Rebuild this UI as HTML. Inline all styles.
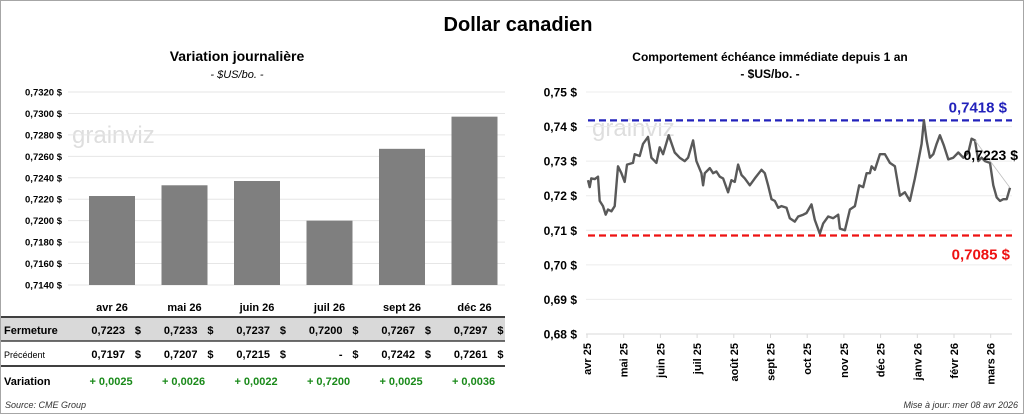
<!DOCTYPE html>
<html><head><meta charset="utf-8">
<style>
body{margin:0;background:#fff;font-family:"Liberation Sans",sans-serif;}
#wrap{position:relative;width:1024px;height:414px;overflow:hidden;}
svg text{font-family:"Liberation Sans",sans-serif;}
</style></head>
<body>
<div id="wrap">
<svg id="svg" width="1024" height="414" xmlns="http://www.w3.org/2000/svg">
<rect x="0.5" y="0.5" width="1023" height="413" fill="#fff" stroke="#a6a6a6"/>
<text x="518" y="31" font-size="20" font-weight="bold" text-anchor="middle">Dollar canadien</text>
<text x="237" y="61" font-size="14" font-weight="bold" text-anchor="middle">Variation  journalière</text>
<text x="237" y="78" font-size="11" font-style="italic" text-anchor="middle">- $US/bo. -</text>
<text x="770" y="61" font-size="12" font-weight="bold" text-anchor="middle">Comportement échéance immédiate depuis 1 an</text>
<text x="770" y="78" font-size="12" font-weight="bold" text-anchor="middle">- $US/bo. -</text>
<text x="72" y="143" font-size="24" fill="#dedede">grainviz</text>
<text x="592" y="136" font-size="24" fill="#dedede">grainviz</text>
<g id="left"></g><g id="right"></g><g id="table"></g>
<text x="5" y="408" font-size="9" font-style="italic" fill="#333">Source: CME Group</text>
<text x="1018" y="408" font-size="9" font-style="italic" fill="#333" text-anchor="end">Mise à jour: mer 08 avr 2026</text>
</svg>
</div>
<script>
const barCategories=["avr 26","mai 26","juin 26","juil 26","sept 26","déc 26"];
const closeValues=[0.7223,0.7233,0.7237,0.7200,0.7267,0.7297];
const prevValues=[0.7197,0.7207,0.7215,null,0.7242,0.7261];
const variationValues=[0.0025,0.0026,0.0022,0.7200,0.0025,0.0036];
const leftTicks=[0.7140,0.7160,0.7180,0.7200,0.7220,0.7240,0.7260,0.7280,0.7300,0.7320];
const lineT=[0,5,10,20,30,35,45,53,60,70,80,85,90,100,110,117,135,140,155,165,180,190,205,215,225,242,260,275,290,300,315,325,340,345,350,365,375,385,395,405,420,430,440,450,460,470,485,500,520,530,540,550,560,570,580,595,605,620,630,645,655,670,680,695,705,720,735,750,755,770,785,800,813,825,835,845,850,860,875,890,905,920,935,950,965,980,990,1000,1007,1015,1025,1035,1045,1055,1067,1080,1095,1110,1125,1140,1150,1160,1170,1180,1190,1205,1215,1225,1235,1245,1255,1265];
const lineValues=[.7245,.7225,.7250,.7248,.7255,.7185,.7170,.7145,.7160,.7155,.7170,.7230,.7285,.7265,.7240,.7290,.7295,.7320,.7315,.7350,.7370,.7310,.7295,.7340,.7320,.7375,.7325,.7310,.7300,.7310,.7360,.7300,.7265,.7230,.7265,.7280,.7265,.7270,.7255,.7250,.7210,.7245,.7240,.7290,.7260,.7250,.7230,.7250,.7275,.7265,.7230,.7190,.7185,.7165,.7170,.7165,.7135,.7125,.7140,.7145,.7150,.7175,.7130,.7090,.7120,.7140,.7135,.7145,.7105,.7100,.7160,.7170,.7230,.7225,.7265,.7265,.7285,.7275,.7320,.7320,.7295,.7285,.7200,.7210,.7185,.7250,.7300,.7350,.7418,.7360,.7310,.7320,.7350,.7375,.7345,.7305,.7310,.7325,.7310,.7325,.7365,.7360,.7300,.7310,.7300,.7295,.7230,.7195,.7185,.7190,.7190,.7223];
const rightTicks=[0.68,0.69,0.70,0.71,0.72,0.73,0.74,0.75];
const monthLabels=["avr 25","mai 25","juin 25","juil 25","août 25","sept 25","oct 25","nov 25","déc 25","janv 26","févr 26","mars 26"];
const maxVal=0.7418, minVal=0.7085, lastVal=0.7223;

const NS="http://www.w3.org/2000/svg";
function mk(tag,attrs,parent,txt){const e=document.createElementNS(NS,tag);for(const k in attrs)e.setAttribute(k,attrs[k]);if(txt!==undefined)e.textContent=txt;parent.appendChild(e);return e;}
const fmt=v=>v.toFixed(4).replace('.',',');

const L=document.getElementById('left');
const ly=v=>285-(v-0.7140)/(0.7320-0.7140)*193;
const lx=i=>76+i*72.5+36;
leftTicks.forEach(t=>{
  const g=mk('line',{x1:68,x2:505,y1:ly(t),y2:ly(t),stroke:'#e6e6e6'},L);
  
  
  const tx=mk('text',{x:62,y:ly(t)+3.5,'font-size':9.5,'font-weight':'bold','text-anchor':'end'},L,fmt(t)+' $');
  
  
});
closeValues.forEach((v,i)=>{
  const b=mk('rect',{x:lx(i)-23,y:ly(v),width:46,height:285-ly(v),fill:'#7f7f7f'},L);
  
  
});

const T=document.getElementById('table');
const bg=mk('rect',{x:1,y:318,width:504,height:23,fill:'#d9d9d9'},T);


[[317,2],[341,1.5],[366,2]].forEach(([y,w])=>{
  const l=mk('line',{x1:1,x2:505,y1:y,y2:y,stroke:'#404040','stroke-width':w},T);
  
  
});
const hdrs=[['Fermeture',334,11,'bold'],['Précédent',358,9,'normal'],['Variation',385,11,'bold']];
hdrs.forEach(h=>{
  const t=mk('text',{x:4,y:h[1],'font-size':h[2],'font-weight':h[3]},T,h[0]);
  
  
});
barCategories.forEach((c,i)=>{
  const cx=lx(i);
  const t=mk('text',{x:cx,y:311,'font-size':11,'font-weight':'bold','text-anchor':'middle'},T,c);
  
  
  const f=mk('text',{x:cx+13,y:334,'font-size':11,'font-weight':'bold','text-anchor':'end'},T,fmt(closeValues[i]));
  
  
  const fd=mk('text',{x:cx+29,y:334,'font-size':11,'font-weight':'bold','text-anchor':'end'},T,'$');
  
  
  const p=mk('text',{x:cx+13,y:358,'font-size':11,'font-weight':'bold','text-anchor':'end'},T,prevValues[i]===null?'-   ':fmt(prevValues[i]));
  
  
  const pd=mk('text',{x:cx+29,y:358,'font-size':11,'font-weight':'bold','text-anchor':'end'},T,'$');
  
  
  const vv=mk('text',{x:cx-1,y:385,'font-size':11,'font-weight':'bold','text-anchor':'middle',fill:'#1a8a1a'},T,'+ '+fmt(variationValues[i]));
  
  
});

const R=document.getElementById('right');
const ry=v=>334-(v-0.68)/0.07*242;
const rx=t=>588+t/1265*422;
rightTicks.forEach(t=>{
  const g=mk('line',{x1:586,x2:1012,y1:ry(t),y2:ry(t),stroke:t===0.68?'#d9d9d9':'#ececec'},R);
  
  
  const tx=mk('text',{x:577,y:ry(t)+4.5,'font-size':12,'font-weight':'bold','text-anchor':'end'},R,t.toFixed(2).replace('.',',')+' $');
  
  
});
monthLabels.forEach((m,i)=>{
  const x=587+i*36.7;
  const tk=mk('line',{x1:x,x2:x,y1:334,y2:338,stroke:'#d9d9d9'},R);
  
  
  const t=mk('text',{x:x+4,y:343,'font-size':11,'font-weight':'bold','text-anchor':'end',transform:`rotate(-90 ${x+4} 343)`},R,m);
  
  
});
const mxl=mk('line',{x1:588,x2:1012,y1:ry(maxVal),y2:ry(maxVal),stroke:'#2222bb','stroke-width':2.2,'stroke-dasharray':'7,4'},R);


const mnl=mk('line',{x1:588,x2:1012,y1:ry(minVal),y2:ry(minVal),stroke:'#ee1111','stroke-width':2.2,'stroke-dasharray':'7,4'},R);


const mxt=mk('text',{x:1007,y:ry(maxVal)-8,'font-size':15,'font-weight':'bold',fill:'#2222bb','text-anchor':'end'},R,fmt(maxVal)+'  $');


const mnt=mk('text',{x:1010,y:ry(minVal)+24,'font-size':15,'font-weight':'bold',fill:'#ee1111','text-anchor':'end'},R,fmt(minVal)+'  $');


const pts=lineT.map((t,i)=>rx(t).toFixed(1)+','+ry(lineValues[i]).toFixed(1)).join(' ');
const pl=mk('polyline',{points:pts,fill:'none',stroke:'#595959','stroke-width':2.4,'stroke-linejoin':'round'},R);


const li=lineT.length-1;
const lead=mk('line',{x1:rx(lineT[li]),y1:ry(lineValues[li]),x2:rx(lineT[li-10]),y2:ry(lineValues[li-10]),stroke:'#bfbfbf','stroke-width':0.8},R);


const lt=mk('text',{x:1018,y:ry(0.7315)+4,'font-size':14,'font-weight':'bold','text-anchor':'end'},R,fmt(lastVal)+' $');


</script>
</body></html>
